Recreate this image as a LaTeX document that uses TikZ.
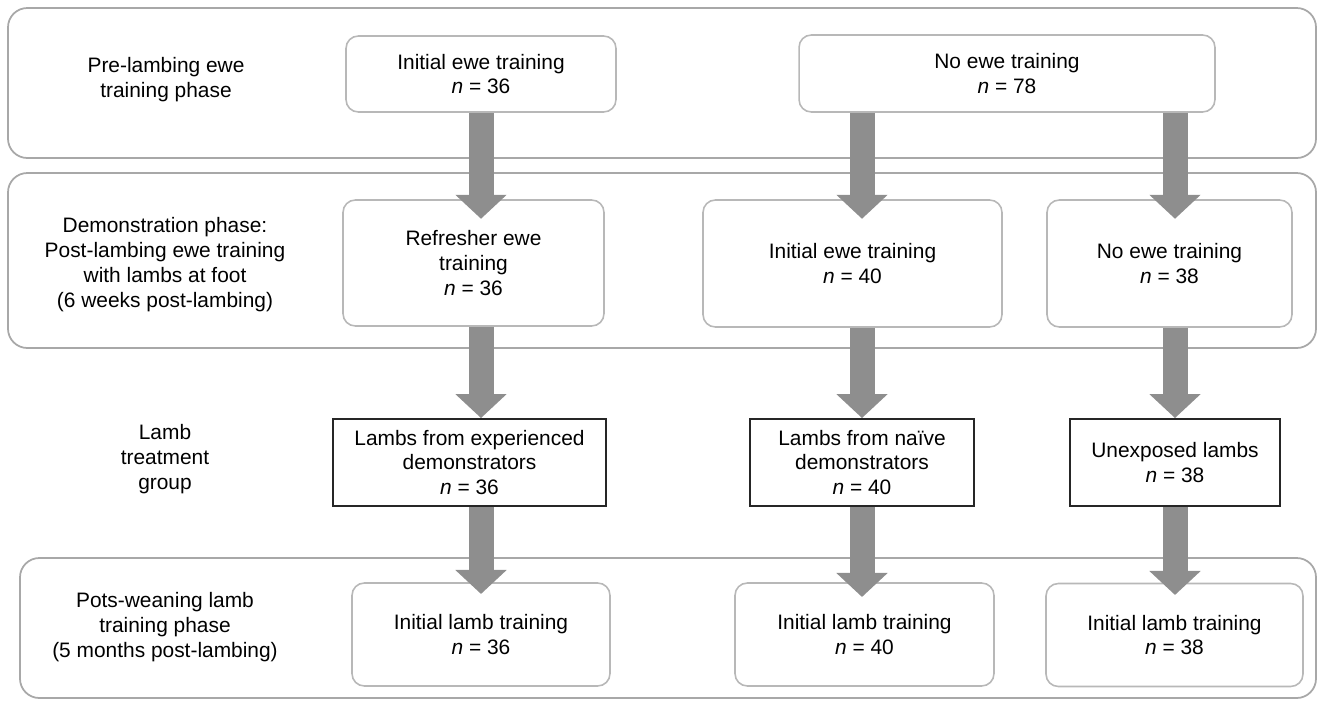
\documentclass[tikz,border=0pt]{standalone}
\usepackage{fontspec}
\setmainfont{Liberation Sans}
\usetikzlibrary{arrows.meta}
\definecolor{panelgray}{HTML}{A8A8A8}
\definecolor{boxgray}{HTML}{B8B8B8}
\definecolor{arrowgray}{HTML}{8E8E8E}
\begin{document}
\begin{tikzpicture}[x=0.02cm,y=-0.02cm,font=\fontsize{11.9}{14.2}\selectfont]
  \tikzstyle{panel}=[draw=panelgray,line width=1pt,rounded corners=11pt]
  \tikzstyle{phase}=[align=center,inner sep=0pt]
  \tikzstyle{group}=[draw=boxgray,line width=0.9pt,rounded corners=7pt,fill=white,align=center,inner sep=0pt]
  \tikzstyle{lambs}=[draw=black!85,line width=1.1pt,fill=white,align=center,inner sep=0pt]
  \tikzstyle{flow}=[draw=arrowgray,line width=0.5cm,-{Triangle[width=1cm 0,length=0.48cm 0]}]
  \useasboundingbox (0,0) rectangle (1319,701);
  % phases
  \draw[panel] (8,8) rectangle (1316,158);
  \draw[panel] (8,173) rectangle (1316,348);
  \draw[panel] (20,558) rectangle (1316,698);
  \node[phase] (pre)  at (166,79.5) {Pre-lambing ewe\\training phase};
  \node[phase] (demo) at (165,265)  {Demonstration phase:\\Post-lambing ewe training\\with lambs at foot\\(6 weeks post-lambing)};
  \node[phase] (lamb) at (165,459)  {Lamb\\treatment\\group};
  \node[phase] (post) at (165,627)  {Pots-weaning lamb\\training phase\\(5 months post-lambing)};
  % groups
  \node[group,minimum width=5.4cm,minimum height=1.52cm]  (PI) at (481,74)     {Initial ewe training\\\textit{n} = 36};
  \node[group,minimum width=8.32cm,minimum height=1.54cm] (PN) at (1007,73.5)  {No ewe training\\\textit{n} = 78};
  \node[group,minimum width=5.22cm,minimum height=2.52cm] (DR) at (473.5,263)  {Refresher ewe\\training\\\textit{n} = 36};
  \node[group,minimum width=5.98cm,minimum height=2.54cm] (DI) at (852.5,263.5) {Initial ewe training\\\textit{n} = 40};
  \node[group,minimum width=4.9cm,minimum height=2.54cm]  (DN) at (1169.5,263.5) {No ewe training\\\textit{n} = 38};
  \node[lambs,minimum width=5.46cm,minimum height=1.74cm] (LE) at (469.5,462.5) {Lambs from experienced\\demonstrators\\\textit{n} = 36};
  \node[lambs,minimum width=4.48cm,minimum height=1.74cm] (LN) at (862,462.5)   {Lambs from naïve\\demonstrators\\\textit{n} = 40};
  \node[lambs,minimum width=4.2cm,minimum height=1.74cm]  (LU) at (1175,462.5)  {Unexposed lambs\\\textit{n} = 38};
  \node[group,minimum width=5.16cm,minimum height=2.06cm] (WE) at (481,634.5)   {Initial lamb training\\\textit{n} = 36};
  \node[group,minimum width=5.18cm,minimum height=2.06cm] (WN) at (864.5,634.5) {Initial lamb training\\\textit{n} = 40};
  \node[group,minimum width=5.14cm,minimum height=2.06cm] (WU) at (1174.5,635)  {Initial lamb training\\\textit{n} = 38};
  % arrows
  \draw[flow] (PI.south) -- ++(0,106);
  \draw[flow] (PN.south -| LN.center) -- ++(0,106);
  \draw[flow] (PN.south -| LU.center) -- ++(0,106);
  \draw[flow] (DR.south -| PI.center) -- (LE.north -| PI.center);
  \draw[flow] (DI.south -| LN.center) -- (LN.north);
  \draw[flow] (DN.south -| LU.center) -- (LU.north);
  \draw[flow] (LE.south -| WE.center) -- ++(0,87);
  \draw[flow] (LN.south) -- ++(0,90);
  \draw[flow] (LU.south) -- ++(0,88);
\end{tikzpicture}
\end{document}
